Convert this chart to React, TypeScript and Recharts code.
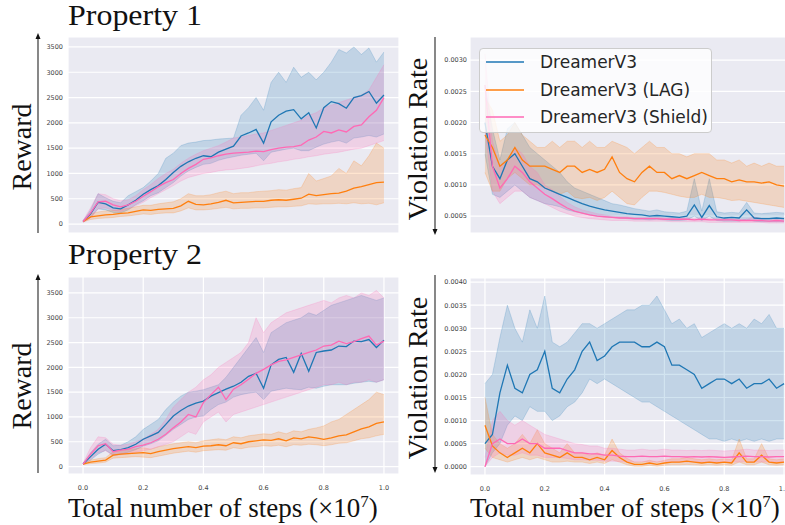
import { Area, CartesianGrid, ComposedChart, Legend, Line, XAxis, YAxis } from "recharts";

// training progress, x in units of 1e7 environment steps
const steps = [
  0, 0.025, 0.05, 0.075, 0.1, 0.125, 0.15, 0.175, 0.2, 0.225,
  0.25, 0.275, 0.3, 0.325, 0.35, 0.375, 0.4, 0.425, 0.45, 0.475,
  0.5, 0.525, 0.55, 0.575, 0.6, 0.625, 0.65, 0.675, 0.7, 0.725,
  0.75, 0.775, 0.8, 0.825, 0.85, 0.875, 0.9, 0.925, 0.95, 0.975,
  1.0,
];
const xTicks = [0, 0.2, 0.4, 0.6, 0.8, 1.0];

const SERIES = [
  { key: "base", name: "DreamerV3", color: "#1f77b4" },
  { key: "lag", name: "DreamerV3 (LAG)", color: "#ff7f0e" },
  { key: "shield", name: "DreamerV3 (Shield)", color: "#ff69b4" },
];

// ---- Property 1, reward ----
const p1RewardBase = [
  50, 200, 430, 400, 320, 300, 380, 470, 590, 680,
  760, 880, 1020, 1140, 1230, 1300, 1350, 1330, 1420, 1480,
  1540, 1740, 1800, 1870, 1600, 2020, 2150, 2230, 2260, 2080,
  2200, 1900, 2300, 2420, 2380, 2290, 2500, 2540, 2620, 2390,
  2550,
];
const p1RewardBaseHi = [
  60, 280, 600, 520, 450, 420, 560, 640, 720, 850,
  1000, 1300, 1400, 1550, 1600, 1620, 1650, 1660, 1680, 1690,
  1700, 2150, 2300, 2500, 2250, 2800, 3000, 2800, 3100, 2900,
  3000, 2850, 3000, 3200, 3450, 3380, 3500, 3350, 3480, 3200,
  3400,
];
const p1RewardBaseLo = [
  40, 130, 300, 280, 230, 220, 280, 380, 460, 560,
  620, 720, 820, 950, 1050, 1120, 1180, 1200, 1260, 1300,
  1330, 1360, 1380, 1400, 1250, 1420, 1450, 1480, 1500, 1450,
  1450, 1520, 1580, 1620, 1650, 1600, 1700, 1720, 1750, 1720,
  1780,
];
const p1RewardLag = [
  50, 140, 160, 180, 190, 210, 220, 250, 280, 270,
  290, 300, 310, 360, 450, 390, 380, 400, 430, 470,
  420, 430, 440, 450, 450, 470, 480, 470, 490, 510,
  590, 560, 580, 600, 610, 650, 710, 740, 780, 820,
  830,
];
const p1RewardLagHi = [
  60, 200, 240, 260, 270, 290, 310, 340, 370, 370,
  400, 420, 440, 500, 600, 560, 560, 580, 620, 650,
  600, 620, 620, 640, 650, 660, 680, 670, 700, 720,
  1000, 850, 900, 950, 1100, 1000, 1250, 1150, 1350, 1600,
  1500,
];
const p1RewardLagLo = [
  40, 90, 110, 120, 130, 150, 160, 180, 200, 190,
  210, 220, 220, 260, 320, 280, 280, 290, 310, 330,
  300, 310, 310, 320, 320, 330, 340, 340, 350, 360,
  400, 390, 400, 400, 410, 400, 420, 400, 410, 380,
  420,
];
const p1RewardShield = [
  50, 220, 440, 450, 380, 340, 380, 450, 550, 640,
  740, 820, 880, 1000, 1100, 1180, 1280, 1310, 1350, 1380,
  1400, 1410, 1420, 1440, 1430, 1470, 1500, 1520, 1530, 1560,
  1660, 1720, 1830, 1800, 1860, 1820, 1930, 1960, 2120, 2250,
  2500,
];
const p1RewardShieldHi = [
  70, 320, 600, 580, 500, 460, 480, 560, 680, 780,
  900, 1000, 1080, 1200, 1300, 1380, 1450, 1500, 1550, 1620,
  1700, 1720, 1750, 1780, 1800, 1850, 1900, 1950, 2000, 2050,
  2150, 2200, 2300, 2350, 2400, 2450, 2500, 2550, 2650, 2900,
  3150,
];
const p1RewardShieldLo = [
  30, 120, 300, 320, 270, 250, 300, 360, 430, 520,
  600, 680, 760, 850, 920, 960, 1000, 1020, 1050, 1070,
  1080, 1100, 1120, 1150, 1180, 1200, 1230, 1250, 1280, 1300,
  1330, 1350, 1380, 1400, 1420, 1450, 1480, 1500, 1550, 1600,
  1650,
];

// ---- Property 1, violation rate ----
const p1RateBase = [
  0.002, 0.0013, 0.0011, 0.0014, 0.0015, 0.0013, 0.0011, 0.00105, 0.00095, 0.0009,
  0.00085, 0.0008, 0.00075, 0.0007, 0.00066, 0.00063, 0.0006, 0.00058, 0.00056, 0.00054,
  0.00053, 0.00052, 0.0005, 0.00051, 0.0005, 0.00049, 0.00048, 0.0005, 0.00068, 0.00048,
  0.00067, 0.00049, 0.00047, 0.00048, 0.00047, 0.0006, 0.00047, 0.00046, 0.00046, 0.00047,
  0.00046,
];
const p1RateBaseHi = [
  0.0026, 0.0019, 0.0014, 0.0019, 0.002, 0.0018, 0.0016, 0.0015, 0.0014, 0.0013,
  0.0012, 0.00105, 0.00095, 0.0009, 0.00085, 0.0008, 0.00075, 0.0007, 0.00068, 0.00065,
  0.00062, 0.0006, 0.00058, 0.0006, 0.00057, 0.00056, 0.00055, 0.00058, 0.0011, 0.00058,
  0.0011, 0.00057, 0.00055, 0.00056, 0.00055, 0.00072, 0.00055, 0.00054, 0.00055, 0.00056,
  0.00055,
];
const p1RateBaseLo = [
  0.0015, 0.00085, 0.0008, 0.0009, 0.001, 0.0009, 0.0008, 0.00075, 0.0007, 0.00068,
  0.00065, 0.0006, 0.00057, 0.00055, 0.00052, 0.0005, 0.00049, 0.00048, 0.00047, 0.00046,
  0.00045, 0.00045, 0.00044, 0.00045, 0.00044, 0.00043, 0.00043, 0.00044, 0.0005, 0.00043,
  0.0005, 0.00043, 0.00042, 0.00042, 0.00042, 0.00045, 0.00042, 0.00041, 0.00041, 0.00041,
  0.00041,
];
const p1RateLag = [
  0.0018, 0.0016, 0.0013, 0.0014, 0.0016, 0.0014, 0.0013, 0.0013, 0.0013, 0.00125,
  0.0012, 0.0013, 0.0013, 0.0012, 0.00125, 0.0012, 0.00125, 0.00145, 0.0012, 0.0011,
  0.00105, 0.0012, 0.0013, 0.0012, 0.0012, 0.0011, 0.00115, 0.0011, 0.00115, 0.0012,
  0.00115, 0.0011, 0.0011, 0.00105, 0.00108, 0.00105, 0.00105, 0.00103, 0.00105, 0.001,
  0.00098,
];
const p1RateLagHi = [
  0.0024, 0.0022, 0.0017, 0.0018, 0.002, 0.0018, 0.0017, 0.0016, 0.0016, 0.0017,
  0.0016, 0.0017, 0.0017, 0.0016, 0.0017, 0.0016, 0.0016, 0.0017, 0.00165, 0.0016,
  0.0015, 0.0016, 0.0017, 0.0016, 0.0016, 0.0015, 0.0015, 0.00145, 0.0015, 0.0015,
  0.0015, 0.0014, 0.0014, 0.00135, 0.0014, 0.0013, 0.00135, 0.0013, 0.00135, 0.0013,
  0.0013,
];
const p1RateLagLo = [
  0.0012, 0.0009, 0.0009, 0.0011, 0.0012, 0.0011, 0.001, 0.001, 0.00095, 0.0009,
  0.00085, 0.0009, 0.0008, 0.00078, 0.0008, 0.00075, 0.0008, 0.0009, 0.0008, 0.0007,
  0.00068, 0.0008, 0.0009, 0.0009, 0.00088, 0.00085, 0.00082, 0.0008, 0.0008, 0.00085,
  0.0008, 0.0008, 0.00078, 0.00075, 0.00076, 0.00074, 0.00072, 0.0007, 0.00068, 0.00066,
  0.00064,
];
const p1RateShield = [
  0.0026, 0.0013, 0.00095, 0.0011, 0.0013, 0.0012, 0.00105, 0.00095, 0.00085, 0.00078,
  0.0007, 0.00063, 0.00058, 0.00055, 0.00052, 0.0005, 0.00049, 0.00048, 0.00047, 0.00047,
  0.00046, 0.00046, 0.00046, 0.00046, 0.00045, 0.00045, 0.00045, 0.00045, 0.00044, 0.00045,
  0.00044, 0.00044, 0.00044, 0.00044, 0.00043, 0.00043, 0.00043, 0.00043, 0.00042, 0.00043,
  0.00042,
];
const p1RateShieldHi = [
  0.0031, 0.0017, 0.0013, 0.0014, 0.0016, 0.0015, 0.0013, 0.0012, 0.001, 0.00092,
  0.00082, 0.00072, 0.00065, 0.0006, 0.00057, 0.00054, 0.00052, 0.0005, 0.00049, 0.00049,
  0.00048, 0.00048, 0.00048, 0.00048, 0.00047, 0.00047, 0.00047, 0.00047, 0.00046, 0.00047,
  0.00046, 0.00046, 0.00046, 0.00046, 0.00045, 0.00045, 0.00049, 0.00045, 0.00044, 0.00046,
  0.00044,
];
const p1RateShieldLo = [
  0.0019, 0.0009, 0.0007, 0.0008, 0.0009, 0.0009, 0.0008, 0.00075, 0.0007, 0.00064,
  0.00058, 0.00054, 0.0005, 0.00048, 0.00046, 0.00045, 0.00044, 0.00043, 0.00043, 0.00043,
  0.00042, 0.00042, 0.00042, 0.00042, 0.00042, 0.00041, 0.00041, 0.00041, 0.00041, 0.00041,
  0.0004, 0.0004, 0.0004, 0.0004, 0.0004, 0.0004, 0.0004, 0.0004, 0.00039, 0.00039,
  0.00039,
];

// ---- Property 2, reward ----
const p2RewardBase = [
  50, 200, 350, 450, 320, 340, 380, 450, 550, 620,
  690, 850, 1020, 1130, 1220, 1280, 1320, 1420, 1490, 1560,
  1620, 1700, 1820, 1880, 1580, 2050, 2160, 2200, 1900, 2280,
  1920, 2300, 2330, 2350, 2430, 2420, 2530, 2520, 2560, 2400,
  2550,
];
const p2RewardBaseHi = [
  60, 280, 450, 550, 420, 430, 500, 600, 750, 850,
  950, 1150, 1300, 1420, 1500, 1520, 1550, 1600, 1650, 1800,
  2000, 2200, 2400, 2600, 2300, 2700, 2800, 2900, 2950, 3000,
  3100, 3050, 3150, 3250, 3300, 3350, 3400, 3450, 3400, 3350,
  3400,
];
const p2RewardBaseLo = [
  40, 130, 250, 330, 230, 250, 290, 340, 410, 460,
  520, 630, 750, 850, 950, 1000, 1020, 1150, 1250, 1300,
  1400, 1450, 1480, 1500, 1350, 1520, 1550, 1580, 1560, 1550,
  1600, 1580, 1620, 1650, 1650, 1650, 1680, 1700, 1720, 1700,
  1750,
];
const p2RewardLag = [
  50, 90, 110, 130, 230, 250, 260, 270, 280, 260,
  300, 330, 360, 380, 400, 380, 410, 420, 440, 420,
  480, 460, 500, 520, 540, 530, 560, 520, 580, 560,
  600, 580, 550, 580, 620, 640, 700, 760, 800, 870,
  900,
];
const p2RewardLagHi = [
  60, 130, 160, 180, 300, 320, 340, 360, 380, 350,
  400, 430, 460, 480, 500, 480, 520, 540, 560, 540,
  600, 580, 620, 640, 660, 650, 700, 660, 720, 700,
  750, 780, 820, 900, 950, 1050, 1150, 1250, 1350, 1500,
  1450,
];
const p2RewardLagLo = [
  40, 60, 70, 90, 170, 180, 190, 200, 190, 180,
  210, 240, 270, 290, 310, 290, 320, 330, 340, 330,
  380, 360, 390, 400, 420, 410, 430, 400, 440, 430,
  450, 440, 420, 440, 470, 480, 520, 560, 580, 620,
  650,
];
const p2RewardShield = [
  50, 250, 420, 460, 300, 330, 350, 400, 430, 480,
  550, 650, 780, 900, 1050, 1000, 1290, 1450, 1600, 1350,
  1560, 1650, 1760, 1880, 1960, 2050, 2120, 2150, 2200, 2250,
  2300, 2350, 2430, 2450, 2530, 2480, 2520, 2580, 2630, 2450,
  2530,
];
const p2RewardShieldHi = [
  70, 380, 600, 580, 450, 430, 450, 500, 560, 650,
  750, 950, 1200, 1350, 1500, 1600, 1750, 1850, 2000, 2100,
  2200, 2300, 2500, 3000, 2700, 2900, 3000, 3100, 3150, 3200,
  3250, 3300, 3350, 3300, 3400, 3450, 3400, 3500, 3450, 3550,
  3400,
];
const p2RewardShieldLo = [
  30, 150, 280, 320, 220, 240, 260, 290, 320, 350,
  400, 450, 500, 600, 700, 650, 900, 1000, 1100, 900,
  1050, 1100, 1150, 1200, 1250, 1300, 1350, 1400, 1450, 1500,
  1550, 1600, 1650, 1650, 1700, 1650, 1700, 1700, 1750, 1700,
  1750,
];

// ---- Property 2, violation rate ----
const p2RateBase = [
  0.0005, 0.0007, 0.0016, 0.0022, 0.0017, 0.0016, 0.002, 0.0021, 0.0025, 0.0017,
  0.0016, 0.0019, 0.0021, 0.0025, 0.0027, 0.0023, 0.0024, 0.0026, 0.0027, 0.0027,
  0.0027, 0.0026, 0.0026, 0.0027, 0.0026, 0.0022, 0.0022, 0.0021, 0.002, 0.0017,
  0.0018, 0.0019, 0.0019, 0.0018, 0.0019, 0.0017, 0.0018, 0.0018, 0.0019, 0.0017,
  0.0018,
];
const p2RateBaseHi = [
  0.0018, 0.002, 0.0028, 0.0035, 0.003, 0.0027, 0.0034, 0.003, 0.0037, 0.0027,
  0.0026, 0.0027, 0.0029, 0.0031, 0.0031, 0.003, 0.0031, 0.0032, 0.0033, 0.0034,
  0.0034, 0.0035, 0.0035, 0.0037, 0.0034, 0.0031, 0.0032, 0.003, 0.0031, 0.0028,
  0.0029, 0.003, 0.0031, 0.003, 0.0031, 0.003, 0.0032, 0.0031, 0.0033, 0.003,
  0.003,
];
const p2RateBaseLo = [
  0, 0.0003, 0.0005, 0.0009, 0.0011, 0.001, 0.0013, 0.0012, 0.0012, 0.001,
  0.0011, 0.0013, 0.0014, 0.0016, 0.0019, 0.0018, 0.0019, 0.0018, 0.0017, 0.0016,
  0.0015, 0.0014, 0.0014, 0.0013, 0.0012, 0.0011, 0.001, 0.0009, 0.0008, 0.0007,
  0.0006, 0.0006, 0.00055, 0.0006, 0.00055, 0.0006, 0.00055, 0.0006, 0.00055, 0.0006,
  0.0006,
];
const p2RateLag = [
  0.0009, 0.00045, 0.0003, 0.0002, 0.0003, 0.0004, 0.0003, 0.0005, 0.0003, 0.00025,
  0.0002, 0.0003, 0.0002, 0.0002, 0.00015, 0.0002, 0.00015, 0.00035, 0.0002, 0.0001,
  0.00005, 0.00005, 0.00008, 0.00005, 0.00008, 0.0001, 0.0001, 0.00012, 0.0001, 0.00008,
  0.0001, 0.00008, 0.0001, 0.00008, 0.0003, 0.0001, 0.0001, 0.00025, 0.0001, 0.00008,
  0.0001,
];
const p2RateLagHi = [
  0.0015, 0.0007, 0.0005, 0.0004, 0.0005, 0.0007, 0.0005, 0.0008, 0.0005, 0.0004,
  0.0003, 0.0005, 0.0003, 0.0003, 0.00025, 0.0003, 0.00025, 0.0006, 0.0003, 0.00018,
  0.0001, 0.0001, 0.00014, 0.0001, 0.00014, 0.00017, 0.00017, 0.0002, 0.00017, 0.00015,
  0.00017, 0.00015, 0.00017, 0.00015, 0.0006, 0.00017, 0.00017, 0.0005, 0.00017, 0.00015,
  0.00017,
];
const p2RateLagLo = [
  0.0004, 0.0002, 0.00015, 0.0001, 0.00015, 0.0002, 0.00015, 0.0002, 0.00015, 0.0001,
  0.0001, 0.00012, 0.0001, 0.0001, 0.00007, 0.0001, 0.00007, 0.00015, 0.0001, 0.00004,
  0.00001, 0.00001, 0.00003, 0.00001, 0.00003, 0.00004, 0.00004, 0.00005, 0.00004, 0.00003,
  0.00004, 0.00003, 0.00004, 0.00003, 0.0001, 0.00004, 0.00004, 0.0001, 0.00004, 0.00003,
  0.00004,
];
const p2RateShield = [
  0, 0.0005, 0.0006, 0.0005, 0.0005, 0.0006, 0.0005, 0.0005, 0.0004, 0.0004,
  0.0004, 0.00035, 0.0003, 0.0003, 0.00028, 0.00028, 0.00025, 0.00025, 0.00023, 0.00022,
  0.00022, 0.00023, 0.00022, 0.00022, 0.00023, 0.00022, 0.00022, 0.00021, 0.00022, 0.00021,
  0.00022, 0.00021, 0.0002, 0.00021, 0.00022, 0.00023, 0.00022, 0.00022, 0.00021, 0.00022,
  0.00022,
];
const p2RateShieldHi = [
  0.0002, 0.001, 0.0012, 0.001, 0.0009, 0.001, 0.0009, 0.0008, 0.0007, 0.00065,
  0.0006, 0.00055, 0.0005, 0.00048, 0.00045, 0.00045, 0.0004, 0.0004, 0.00038, 0.00036,
  0.00036, 0.00038, 0.00036, 0.00036, 0.00038, 0.00036, 0.00036, 0.00035, 0.00036, 0.00035,
  0.00036, 0.00035, 0.00034, 0.00035, 0.00036, 0.00038, 0.00036, 0.00036, 0.00035, 0.00036,
  0.00036,
];
const p2RateShieldLo = [
  0, 0.0002, 0.0003, 0.00025, 0.00025, 0.0003, 0.00025, 0.00025, 0.0002, 0.0002,
  0.0002, 0.00018, 0.00015, 0.00015, 0.00014, 0.00014, 0.00012, 0.00012, 0.00011, 0.0001,
  0.0001, 0.00011, 0.0001, 0.0001, 0.00011, 0.0001, 0.0001, 0.0001, 0.0001, 0.0001,
  0.0001, 0.0001, 0.0001, 0.0001, 0.0001, 0.00011, 0.0001, 0.0001, 0.0001, 0.0001,
  0.0001,
];

type Band = [number[], number[], number[]]; // mean, lower, upper

function buildRows(base: Band, lag: Band, shield: Band) {
  return steps.map((x, i) => ({
    x,
    base: base[0][i],
    baseBand: [base[1][i], base[2][i]],
    lag: lag[0][i],
    lagBand: [lag[1][i], lag[2][i]],
    shield: shield[0][i],
    shieldBand: [shield[1][i], shield[2][i]],
  }));
}

const p1Reward = buildRows(
  [p1RewardBase, p1RewardBaseLo, p1RewardBaseHi],
  [p1RewardLag, p1RewardLagLo, p1RewardLagHi],
  [p1RewardShield, p1RewardShieldLo, p1RewardShieldHi]
);
const p1Rate = buildRows(
  [p1RateBase, p1RateBaseLo, p1RateBaseHi],
  [p1RateLag, p1RateLagLo, p1RateLagHi],
  [p1RateShield, p1RateShieldLo, p1RateShieldHi]
);
const p2Reward = buildRows(
  [p2RewardBase, p2RewardBaseLo, p2RewardBaseHi],
  [p2RewardLag, p2RewardLagLo, p2RewardLagHi],
  [p2RewardShield, p2RewardShieldLo, p2RewardShieldHi]
);
const p2Rate = buildRows(
  [p2RateBase, p2RateBaseLo, p2RateBaseHi],
  [p2RateLag, p2RateLagLo, p2RateLagHi],
  [p2RateShield, p2RateShieldLo, p2RateShieldHi]
);

const rewardTicks = [0, 500, 1000, 1500, 2000, 2500, 3000, 3500];
const p1RateTicks = [0.0005, 0.001, 0.0015, 0.002, 0.0025, 0.003];
const p2RateTicks = [0, 0.0005, 0.001, 0.0015, 0.002, 0.0025, 0.003, 0.0035, 0.004];

const tickStyle = { fontSize: 6.5, fill: "#444", fontFamily: "DejaVu Sans" };

function LegendBox({ payload }: any) {
  const items = (payload || []).filter((p: any) => p.type !== "none");
  return (
    <div
      style={{
        position: "relative",
        width: 233,
        height: 85,
        boxSizing: "border-box",
        background: "rgba(255,255,255,0.8)",
        border: "1px solid #cccccc",
        borderRadius: 4,
        fontFamily: "DejaVu Sans",
        fontSize: 17,
        color: "#262626",
      }}
    >
      {items.map((p: any, i: number) => (
        <div
          key={p.value}
          style={{ position: "absolute", left: 6, top: 2 + i * 27.5, height: 22, display: "flex", alignItems: "center" }}
        >
          <svg width={38} height={4}>
            <line x1={0} y1={2} x2={38} y2={2} stroke={p.color} strokeWidth={1.3} />
          </svg>
          <span style={{ marginLeft: 16, whiteSpace: "nowrap" }}>{p.value}</span>
        </div>
      ))}
    </div>
  );
}

type PanelProps = {
  rows: any[];
  left: number;
  top: number;
  height: number;
  margin: { top: number; right: number; bottom: number; left: number };
  yDomain: [number, number];
  yTicks: number[];
  yFormat: (v: number) => string;
  yTickGap: number;
  xLabels?: boolean;
  legend?: boolean;
};

function Panel({ rows, left, top, height, margin, yDomain, yTicks, yFormat, yTickGap, xLabels, legend }: PanelProps) {
  return (
    <div style={{ position: "absolute", left, top }}>
      <ComposedChart width={400} height={height} data={rows} margin={margin}>
        <CartesianGrid fill="#eaeaf2" stroke="#ffffff" strokeWidth={1.2} />
        <XAxis
          dataKey="x"
          type="number"
          domain={[-0.05, 1.05]}
          ticks={xTicks}
          allowDataOverflow
          axisLine={false}
          tickLine={false}
          tickSize={0}
          tickMargin={11}
          height={xLabels ? 20 : 0}
          tick={xLabels ? tickStyle : false}
          tickFormatter={(v: number) => v.toFixed(1)}
        />
        <YAxis
          type="number"
          domain={yDomain}
          ticks={yTicks}
          allowDataOverflow
          width={60}
          axisLine={false}
          tickLine={false}
          tickSize={0}
          tickMargin={yTickGap}
          tick={tickStyle}
          tickFormatter={yFormat}
        />
        {SERIES.map((s) => (
          <Area
            key={s.key + "Band"}
            dataKey={s.key + "Band"}
            type="linear"
            fill={s.color}
            fillOpacity={0.2}
            stroke={s.color}
            strokeOpacity={0.2}
            strokeWidth={1}
            legendType="none"
            isAnimationActive={false}
          />
        ))}
        {SERIES.map((s) => (
          <Line
            key={s.key}
            dataKey={s.key}
            name={s.name}
            type="linear"
            stroke={s.color}
            strokeWidth={1.3}
            dot={false}
            isAnimationActive={false}
          />
        ))}
        {legend && (
          <Legend
            layout="horizontal"
            verticalAlign="middle"
            align="center"
            content={<LegendBox />}
            wrapperStyle={{ left: 79, top: 48, width: 233, height: 85 }}
          />
        )}
      </ComposedChart>
    </div>
  );
}

const serif = "'Liberation Serif', 'Times New Roman', serif";

function Arrow({ x, from, to }: { x: number; from: number; to: number }) {
  const dir = to < from ? -1 : 1;
  return (
    <g>
      <line x1={x} y1={from} x2={x} y2={to - dir * 5} stroke="#555" strokeWidth={1.4} />
      <polygon points={`${x - 2.5},${to - dir * 6} ${x + 2.5},${to - dir * 6} ${x},${to}`} fill="#111" />
    </g>
  );
}

function StepsLabel({ x }: { x: number }) {
  return (
    <text x={x} y={517} fontFamily={serif} fontSize={27} fill="#111">
      Total number of steps (×10
      <tspan dy={-10} fontSize={17}>7</tspan>
      <tspan dy={10}>)</tspan>
    </text>
  );
}

export default function App() {
  const rewardFmt = (v: number) => String(v);
  const rateFmt = (v: number) => v.toFixed(4);
  return (
    <div style={{ position: "fixed", left: 0, top: 0, width: 785, height: 525, overflow: "hidden", background: "#fff" }}>
      <Panel
        rows={p1Reward}
        left={0}
        top={0}
        height={240}
        margin={{ top: 37, right: 1, bottom: 7, left: 8 }}
        yDomain={[-177, 3697]}
        yTicks={rewardTicks}
        yFormat={rewardFmt}
        yTickGap={5}
      />
      <Panel
        rows={p1Rate}
        left={400}
        top={0}
        height={240}
        margin={{ top: 37, right: 1, bottom: 7, left: 10 }}
        yDomain={[0.00023, 0.00337]}
        yTicks={p1RateTicks}
        yFormat={rateFmt}
        yTickGap={3}
        legend
      />
      <Panel
        rows={p2Reward}
        left={0}
        top={240}
        height={285}
        margin={{ top: 37, right: 1, bottom: 31, left: 8 }}
        yDomain={[-150, 3822]}
        yTicks={rewardTicks}
        yFormat={rewardFmt}
        yTickGap={5}
        xLabels
      />
      <Panel
        rows={p2Rate}
        left={400}
        top={240}
        height={285}
        margin={{ top: 38, right: 1, bottom: 30, left: 10 }}
        yDomain={[-0.00018, 0.00409]}
        yTicks={p2RateTicks}
        yFormat={rateFmt}
        yTickGap={3}
        xLabels
      />
      <svg width={785} height={525} style={{ position: "absolute", left: 0, top: 0, pointerEvents: "none" }}>
        <text x={68} y={25} fontFamily={serif} fontSize={29} textLength={134} lengthAdjust="spacingAndGlyphs" fill="#111">
          Property 1
        </text>
        <text x={68} y={264} fontFamily={serif} fontSize={29} textLength={134} lengthAdjust="spacingAndGlyphs" fill="#111">
          Property 2
        </text>
        <text transform="translate(31,147) rotate(-90)" textAnchor="middle" fontFamily={serif} fontSize={28} fill="#111">
          Reward
        </text>
        <text transform="translate(31,386) rotate(-90)" textAnchor="middle" fontFamily={serif} fontSize={28} fill="#111">
          Reward
        </text>
        <text transform="translate(427,139) rotate(-90)" textAnchor="middle" fontFamily={serif} fontSize={28} fill="#111">
          Violation Rate
        </text>
        <text transform="translate(427,378) rotate(-90)" textAnchor="middle" fontFamily={serif} fontSize={28} fill="#111">
          Violation Rate
        </text>
        <Arrow x={38} from={233} to={33} />
        <Arrow x={38} from={473} to={274} />
        <Arrow x={435} from={37} to={235} />
        <Arrow x={435} from={275} to={473} />
        <StepsLabel x={68} />
        <StepsLabel x={470} />
      </svg>
    </div>
  );
}
